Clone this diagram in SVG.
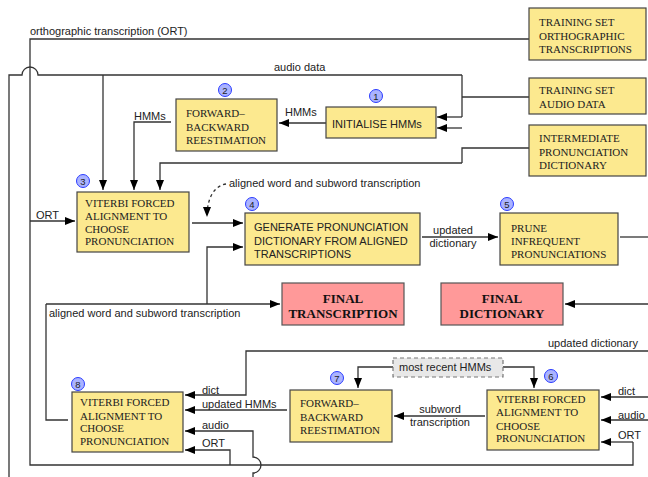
<svg xmlns="http://www.w3.org/2000/svg" width="648" height="477" viewBox="0 0 648 477">
<defs>
<marker id="ah" viewBox="0 0 10 8" refX="10" refY="4" markerWidth="10" markerHeight="8" markerUnits="userSpaceOnUse" orient="auto"><path d="M0,0 L10,4 L0,8 z" fill="#000"/></marker>
<style>
.box{fill:#fce98f;stroke:#444;stroke-width:1.2}
.fin{fill:#ff9999;stroke:#555;stroke-width:1.2}
.st{font-family:"Liberation Serif",serif;font-size:11px;fill:#222}
.ss{font-family:"Liberation Sans",Arial,sans-serif;font-size:11px;fill:#222}
.sb{font-family:"Liberation Serif",serif;font-size:13px;font-weight:bold;fill:#111}
.lb{font-family:"Liberation Sans",Arial,sans-serif;font-size:11px;fill:#222}
.bd{fill:#aab3ff;stroke:#2b3cff;stroke-width:1}
.bn{font-family:"Liberation Sans",Arial,sans-serif;font-size:9.5px;fill:#222;text-anchor:middle}
.c path{fill:none;stroke:#333;stroke-width:1.3}
.c .a{marker-end:url(#ah)}
.c .d{stroke-dasharray:3,3}
</style>
</defs>
<rect width="648" height="477" fill="#fff"/>

<g id="connectors" class="c">
<!-- ORT -->
<path d="M529,39 H30 V465 H633 V442"/>
<path class="a" d="M633,442 H601"/>
<path class="a" d="M30,221 H75"/>
<path class="a" d="M230,465 V450 H185"/>
<!-- audio -->
<path d="M529,97 H462"/>
<path d="M462,75 V117"/>
<path class="a" d="M462,117 H437"/>
<path d="M462,75 H38 A8,8 0 0 0 22,75 H9 V477"/>
<path class="a" d="M103,75 V190"/>
<!-- dict -->
<path d="M529,148 H462 V163"/>
<path class="a" d="M462,128 H437"/>
<path class="a" d="M462,163 H160 V190"/>
<!-- HMMs -->
<path class="a" d="M326,123 H279"/>
<path class="a" d="M171,122 H134 V190"/>
<!-- 3 -> 4 -->
<path class="a" d="M192,223 H243"/>
<path class="d a" d="M226,184 C214,186 207,198 207,217"/>
<!-- 8 output -->
<path d="M68,420 H46 V304"/>
<path class="a" d="M46,304 H280"/>
<path class="a" d="M207,304 V247 H243"/>
<!-- 4 -> 5 -->
<path class="a" d="M422,237 H498"/>
<path d="M620,237 H648"/>
<path class="a" d="M648,304 H565"/>
<!-- lower -->
<path class="a" d="M648,351 H246 V395 H185"/>
<path class="a" d="M287,410 H185"/>
<path class="a" d="M253,477 V473 A8,8 0 0 0 253,457 V431 H185"/>
<path class="a" d="M485,416 H394"/>
<path class="a" d="M393,367 H358 V388"/>
<path class="a" d="M503,367 H534 V388"/>
<path class="a" d="M648,397 H601"/>
<path class="a" d="M648,420 H601"/>
</g>

<g id="labels">
<text class="lb" x="30" y="35">orthographic transcription (ORT)</text>
<text class="lb" x="274" y="71">audio data</text>
<text class="lb" x="285" y="116">HMMs</text>
<text class="lb" x="134" y="119.5">HMMs</text>
<text class="lb" x="36" y="219">ORT</text>
<text class="lb" x="229" y="187">aligned word and subword transcription</text>
<text class="lb" x="49" y="317">aligned word and subword transcription</text>
<text class="lb" x="453" y="234" text-anchor="middle">updated</text>
<text class="lb" x="453" y="247" text-anchor="middle">dictionary</text>
<text class="lb" x="548" y="347">updated dictionary</text>
<text class="lb" x="202" y="394">dict</text>
<text class="lb" x="202" y="408">updated HMMs</text>
<text class="lb" x="202" y="429">audio</text>
<text class="lb" x="202" y="447">ORT</text>
<text class="lb" x="440" y="413" text-anchor="middle">subword</text>
<text class="lb" x="440" y="426" text-anchor="middle">transcription</text>
<text class="lb" x="618" y="395">dict</text>
<text class="lb" x="618" y="419">audio</text>
<text class="lb" x="618" y="439">ORT</text>
</g>

<g id="recent-hmms">
<rect x="393" y="358" width="110" height="19" fill="#e8e8e8" stroke="#777" stroke-width="1.2" stroke-dasharray="4,3"/>
<text class="lb" x="399" y="371">most recent HMMs</text>
</g>

<g id="train-ort">
<rect class="box" x="529" y="8" width="117" height="52"/>
<text class="st" x="539" y="26">TRAINING SET</text>
<text class="st" x="539" y="39.5">ORTHOGRAPHIC</text>
<text class="st" x="539" y="53">TRANSCRIPTIONS</text>
</g>
<g id="train-audio">
<rect class="box" x="529" y="78" width="117" height="36"/>
<text class="st" x="539" y="94">TRAINING SET</text>
<text class="st" x="539" y="107.5">AUDIO DATA</text>
</g>
<g id="inter-dict">
<rect class="box" x="529" y="125" width="117" height="51"/>
<text class="st" x="539" y="142">INTERMEDIATE</text>
<text class="st" x="539" y="155.5">PRONUNCIATION</text>
<text class="st" x="539" y="169">DICTIONARY</text>
</g>

<g id="n1">
<rect class="box" x="326" y="107" width="110" height="31"/>
<text class="ss" x="332" y="128">INITIALISE HMMs</text>
<circle class="bd" cx="376" cy="96" r="6.5"/><text class="bn" x="376" y="99.5">1</text>
</g>
<g id="n2">
<rect class="box" x="176" y="99" width="101" height="52"/>
<text class="st" x="186" y="117">FORWARD–</text>
<text class="st" x="186" y="130.5">BACKWARD</text>
<text class="st" x="186" y="143.5">REESTIMATION</text>
<circle class="bd" cx="225" cy="90" r="6.5"/><text class="bn" x="225" y="93.5">2</text>
</g>
<g id="n3">
<rect class="box" x="77" y="192" width="112" height="60"/>
<text class="st" x="85" y="207">VITERBI FORCED</text>
<text class="st" x="85" y="219.5">ALIGNMENT TO</text>
<text class="st" x="85" y="232.5">CHOOSE</text>
<text class="st" x="85" y="245">PRONUNCIATION</text>
<circle class="bd" cx="83" cy="181" r="6.5"/><text class="bn" x="83" y="184.5">3</text>
</g>
<g id="n4">
<rect class="box" x="245" y="213" width="175" height="52"/>
<text class="ss" x="254" y="231">GENERATE PRONUNCIATION</text>
<text class="ss" x="254" y="245">DICTIONARY FROM ALIGNED</text>
<text class="ss" x="254" y="258">TRANSCRIPTIONS</text>
<circle class="bd" cx="252" cy="204" r="6.5"/><text class="bn" x="252" y="207.5">4</text>
</g>
<g id="n5">
<rect class="box" x="500" y="213" width="118" height="52"/>
<text class="st" x="511" y="232">PRUNE</text>
<text class="st" x="511" y="245">INFREQUENT</text>
<text class="st" x="511" y="258">PRONUNCIATIONS</text>
<circle class="bd" cx="507" cy="204" r="6.5"/><text class="bn" x="507" y="207.5">5</text>
</g>
<g id="final-trans">
<rect class="fin" x="282" y="283" width="122" height="42"/>
<text class="sb" x="343" y="302.5" text-anchor="middle">FINAL</text>
<text class="sb" x="343" y="317.5" text-anchor="middle">TRANSCRIPTION</text>
</g>
<g id="final-dict">
<rect class="fin" x="441" y="283" width="122" height="42"/>
<text class="sb" x="502" y="302.5" text-anchor="middle">FINAL</text>
<text class="sb" x="502" y="317.5" text-anchor="middle">DICTIONARY</text>
</g>
<g id="n6">
<rect class="box" x="487" y="390" width="112" height="60"/>
<text class="st" x="496" y="403">VITERBI FORCED</text>
<text class="st" x="496" y="416">ALIGNMENT TO</text>
<text class="st" x="496" y="429.5">CHOOSE</text>
<text class="st" x="496" y="442">PRONUNCIATION</text>
<circle class="bd" cx="551" cy="376" r="6.5"/><text class="bn" x="551" y="379.5">6</text>
</g>
<g id="n7">
<rect class="box" x="290" y="390" width="102" height="52"/>
<text class="st" x="300" y="407">FORWARD–</text>
<text class="st" x="300" y="421">BACKWARD</text>
<text class="st" x="300" y="434">REESTIMATION</text>
<circle class="bd" cx="337" cy="378" r="6.5"/><text class="bn" x="337" y="381.5">7</text>
</g>
<g id="n8">
<rect class="box" x="72" y="392" width="111" height="60"/>
<text class="st" x="80" y="406">VITERBI FORCED</text>
<text class="st" x="80" y="419.5">ALIGNMENT TO</text>
<text class="st" x="80" y="432">CHOOSE</text>
<text class="st" x="80" y="445">PRONUNCIATION</text>
<circle class="bd" cx="78" cy="384" r="6.5"/><text class="bn" x="78" y="387.5">8</text>
</g>
</svg>
